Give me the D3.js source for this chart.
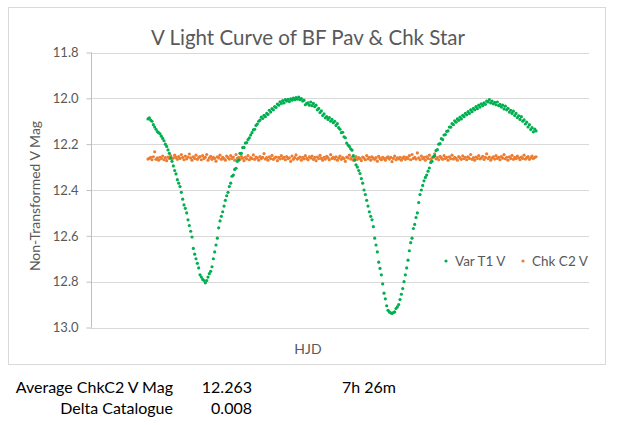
<!DOCTYPE html>
<html>
<head>
<meta charset="utf-8">
<script src="https://cdn.jsdelivr.net/npm/d3@7"></script>
<style>
  html, body { margin: 0; padding: 0; background: #fff; }
  svg { display: block; font-family: Lato, "Open Sans", sans-serif; }
</style>
</head>
<body>
<svg id="chart" width="617" height="425"></svg>
<script>
// ---- Data ----
const title = "V Light Curve of BF Pav & Chk Star";
const yLabel = "Non-Transformed V Mag";
const xLabel = "HJD";
const yTicks = [11.8, 12.0, 12.2, 12.4, 12.6, 12.8, 13.0];
const seriesNames = ["Var T1 V", "Chk C2 V"];
// observation run: start (hours into axis window) and duration 7h26m
const runStartHours = 1.092;
const runDurationHours = 7 + 26 / 60;
const axisHours = [0, 9.54];

const varT1V = [
  12.09,12.085,12.095, 12.10,12.115,12.125, 12.135,12.145,12.15, 12.155,12.165,12.175,
  12.185,12.20,12.21, 12.225,12.24,12.26, 12.275,12.295,12.315, 12.33,12.355,12.37,
  12.385,12.41,12.44, 12.465,12.48,12.50,
  12.53,12.555,12.58, 12.605,12.655,12.68, 12.70,12.72,12.74, 12.77,12.78,12.79,
  12.795,12.805,12.795,
  12.78,12.765,12.755, 12.735,12.70,12.67, 12.64,12.61,12.565, 12.535,12.515,12.495,
  12.47,12.445,12.425,
  12.41,12.385,12.37, 12.34,12.335,12.31, 12.305,12.275,12.27, 12.24,12.24,12.215,
  12.214,12.195,12.193,
  12.18,12.172,12.16, 12.15,12.138,12.135, 12.118,12.112,12.10, 12.095,12.082,12.088,
  12.074,12.08,12.066,
  12.07,12.052,12.06, 12.045,12.05,12.036, 12.04,12.025,12.03, 12.015,12.022,12.01,
  12.02,12.006,12.012,
  12.004,12.014,12.002, 12.008,11.999,12.006, 11.997,12.004,11.995, 12.006,12.001,12.012,
  12.008,12.028,12.022,
  12.02,12.03,12.016, 12.032,12.022,12.036, 12.03,12.05,12.044, 12.062,12.055,12.075,
  12.068,12.085,12.08,
  12.092,12.084,12.10, 12.092,12.106,12.10, 12.118,12.11,12.128, 12.135,12.15,12.148,
  12.168,12.172,12.195,
  12.204,12.21,12.22, 12.226,12.25,12.27, 12.29,12.30,12.315, 12.328,12.35,12.37,
  12.40,12.42,12.445,
  12.47,12.495,12.515, 12.53,12.56,12.61, 12.64,12.67,12.715, 12.742,12.77,12.81,
  12.85,12.875,12.905,
  12.925,12.932,12.936, 12.939,12.935,12.932, 12.917,12.91,12.90, 12.878,12.855,12.83,
  12.80,12.77,12.74,
  12.706,12.665,12.63, 12.61,12.568,12.55, 12.52,12.50,12.455, 12.42,12.40,12.38,
  12.36,12.345,12.335,
  12.318,12.304,12.28, 12.275,12.255,12.25, 12.228,12.224,12.20, 12.198,12.176,12.18,
  12.16,12.158,12.144,
  12.142,12.125,12.126, 12.11,12.115,12.098, 12.104,12.09,12.096, 12.082,12.09,12.074,
  12.08,12.066,12.072,
  12.058,12.066,12.05, 12.058,12.044,12.05, 12.036,12.045,12.03, 12.038,12.024,12.032,
  12.02,12.026,12.012,
  12.016,12.006,12.02, 12.012,12.024,12.018, 12.028,12.016,12.032, 12.026,12.038,12.03,
  12.046,12.034,12.05,
  12.044,12.06,12.052, 12.066,12.056,12.075, 12.066,12.084,12.076, 12.092,12.08,12.10,
  12.094,12.112,12.104,
  12.125,12.115,12.136, 12.128,12.146,12.134, 12.142
];

const chkC2V = [
  12.265,12.262,12.258,12.268,12.255,12.233,12.266,12.26,12.27,12.257,
  12.263,12.252,12.268,12.259,12.272,12.256,12.262,12.25,12.265,12.26,
  12.248,12.258,12.266,12.254,12.262,12.245,12.258,12.268,12.252,12.264,
  12.256,12.243,12.26,12.27,12.255,12.262,12.248,12.266,12.258,12.254,
  12.268,12.25,12.262,12.257,12.245,12.27,12.26,12.253,12.266,12.258,
  12.262,12.274,12.255,12.26,12.248,12.266,12.257,12.263,12.27,12.252,
  12.259,12.265,12.25,12.262,12.256,12.27,12.245,12.262,12.258,12.266,
  12.253,12.261,12.272,12.257,12.264,12.25,12.268,12.259,12.263,12.247,
  12.266,12.256,12.26,12.27,12.254,12.262,12.258,12.241,12.265,12.259,
  12.27,12.255,12.263,12.249,12.266,12.26,12.256,12.272,12.258,12.264,
  12.25,12.262,12.257,12.268,12.254,12.263,12.26,12.275,12.252,12.266,
  12.259,12.247,12.265,12.261,12.256,12.27,12.258,12.264,12.25,12.262,
  12.268,12.255,12.26,12.252,12.266,12.258,12.272,12.256,12.263,12.249,
  12.262,12.27,12.257,12.265,12.253,12.26,12.268,12.246,12.262,12.258,
  12.264,12.255,12.27,12.26,12.252,12.266,12.259,12.263,12.275,12.256,
  12.26,12.248,12.265,12.257,12.27,12.262,12.254,12.266,12.259,12.263,
  12.272,12.256,12.261,12.268,12.25,12.264,12.258,12.27,12.255,12.262,
  12.266,12.259,12.274,12.253,12.263,12.268,12.257,12.262,12.27,12.26,
  12.255,12.265,12.258,12.276,12.262,12.252,12.268,12.26,12.264,12.257,
  12.27,12.261,12.255,12.266,12.258,12.263,12.25,12.268,12.245,12.262,
  12.257,12.265,12.238,12.26,12.268,12.252,12.263,12.258,12.27,12.255,
  12.262,12.248,12.266,12.26,12.256,12.242,12.264,12.259,12.268,12.253,
  12.26,12.266,12.25,12.262,12.257,12.27,12.255,12.263,12.248,12.265,
  12.258,12.262,12.27,12.254,12.26,12.266,12.251,12.263,12.257,12.268,
  12.255,12.262,12.245,12.266,12.259,12.27,12.256,12.262,12.25,12.264,
  12.26,12.253,12.267,12.258,12.242,12.263,12.256,12.27,12.261,12.255,
  12.265,12.25,12.262,12.258,12.268,12.254,12.261,12.246,12.264,12.257,
  12.27,12.255,12.262,12.249,12.266,12.258,12.263,12.252,12.26,12.268,
  12.256,12.262,12.248,12.265,12.259,12.254,12.266,12.26,12.252,12.263,
  12.258,12.255
];

const footerRows = [
  ["Average ChkC2 V Mag", "12.263", "7h 26m"],
  ["Delta Catalogue", "0.008", ""]
];

// ---- Drawing ----
const colors = ["#00B050", "#ED7D31"];
const svg = d3.select("#chart");

svg.append("rect").attr("x", 8.5).attr("y", 7.5).attr("width", 597).attr("height", 357)
  .attr("fill", "#fff").attr("stroke", "#D9D9D9").attr("stroke-width", 1);

const x = d3.scaleLinear().domain(axisHours).range([91, 589]);
const y = d3.scaleLinear().domain([11.8, 13.0]).range([52.5, 327.5]);

const n = varT1V.length;
const step = runDurationHours / (n - 1);
const times = varT1V.map((_, i) => runStartHours + i * step);

// gridlines
svg.append("g").selectAll("line").data(yTicks).join("line")
  .attr("x1", 91).attr("x2", 589)
  .attr("y1", d => Math.round(y(d)) + 0.5).attr("y2", d => Math.round(y(d)) + 0.5)
  .attr("stroke", "#D9D9D9").attr("stroke-width", 1);

// y axis
const yAxis = svg.append("g").attr("transform", "translate(91.5,0)")
  .call(d3.axisLeft(y).tickValues(yTicks).tickFormat(d3.format(".1f")).tickSize(5).tickPadding(8));
yAxis.select(".domain").attr("stroke", "#BFBFBF").attr("d", `M0,${y(11.8)}V${y(13.0)}`);
yAxis.selectAll(".tick line").attr("stroke", "#BFBFBF");
yAxis.selectAll(".tick text").attr("fill", "#595959").attr("font-size", 13)
  .attr("font-family", "Lato, sans-serif");

// series
function drawSeries(vals, color) {
  svg.append("g").selectAll("circle").data(vals).join("circle")
    .attr("cx", (d, i) => x(times[i])).attr("cy", d => y(d))
    .attr("r", 1.6).attr("fill", color);
}
drawSeries(chkC2V, colors[1]);
drawSeries(varT1V, colors[0]);

// title
svg.append("text").attr("x", 308).attr("y", 45).attr("text-anchor", "middle")
  .attr("font-size", 20.5).attr("fill", "#595959").text(title);

// axis titles
svg.append("text").attr("transform", "translate(40,196) rotate(-90)")
  .attr("text-anchor", "middle").attr("font-size", 14).attr("fill", "#595959").text(yLabel);
svg.append("text").attr("x", 308).attr("y", 354).attr("text-anchor", "middle")
  .attr("font-size", 14).attr("fill", "#595959").text(xLabel);

// legend
const legend = svg.append("g");
const legX = [446, 523];
seriesNames.forEach((name, i) => {
  legend.append("circle").attr("cx", legX[i]).attr("cy", 261).attr("r", 1.6).attr("fill", colors[i]);
  legend.append("text").attr("x", legX[i] + 9).attr("y", 266).attr("font-size", 13.5)
    .attr("fill", "#595959").text(name);
});

// footer
footerRows.forEach((row, r) => {
  const yy = 393 + r * 21;
  svg.append("text").attr("x", 173).attr("y", yy).attr("text-anchor", "end")
    .attr("font-size", 16).attr("fill", "#000").text(row[0]);
  svg.append("text").attr("x", 252).attr("y", yy).attr("text-anchor", "end")
    .attr("font-size", 16).attr("fill", "#000").text(row[1]);
  if (row[2]) svg.append("text").attr("x", 342).attr("y", yy)
    .attr("font-size", 16).attr("fill", "#000").text(row[2]);
});
</script>
</body>
</html>
